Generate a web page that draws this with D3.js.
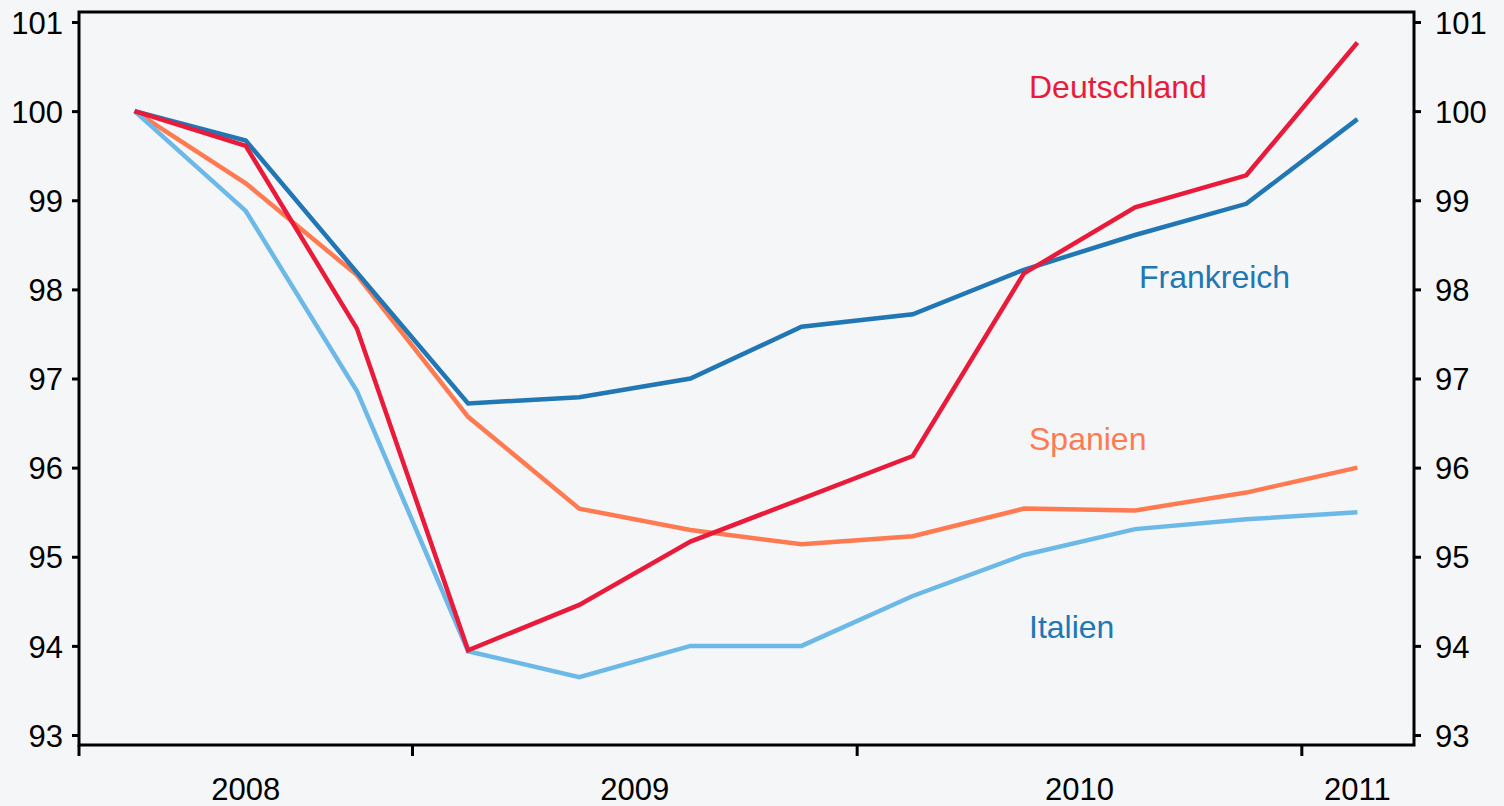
<!DOCTYPE html>
<meta charset="utf-8">
<head>
    <title>Deutschland, Frankreich, Spanien, Italien</title>
</head>
<style>
    body { margin: 0; background: #f4f6f8; }
    svg { display: block; font-family: "Liberation Sans", Arial, sans-serif; }
</style>
<script src="https://d3js.org/d3.v7.min.js"></script>
<body>
    <div id="chart"></div>
</body>
<script>
    // quarters from Q2 2008 to Q1 2011
    var quarters = ["2008Q2", "2008Q3", "2008Q4", "2009Q1", "2009Q2", "2009Q3", "2009Q4",
        "2010Q1", "2010Q2", "2010Q3", "2010Q4", "2011Q1"];
    var years = ["2008", "2009", "2010", "2011"];
    var yTicks = [93, 94, 95, 96, 97, 98, 99, 100, 101];

    var deutschland = [100, 99.61, 97.56, 93.95, 94.46, 95.17, 95.65, 96.13, 98.18, 98.92, 99.28, 100.77];
    var frankreich = [100, 99.67, 98.19, 96.72, 96.79, 97.00, 97.58, 97.72, 98.22, 98.61, 98.96, 99.91];
    var spanien = [100, 99.19, 98.16, 96.57, 95.54, 95.30, 95.14, 95.23, 95.54, 95.52, 95.72, 96.00];
    var italien = [100, 98.88, 96.86, 93.94, 93.65, 94.00, 94.00, 94.56, 95.02, 95.31, 95.42, 95.50];

    var series = [
        { name: "Spanien", values: spanien, color: "#ff7a50", label: [1029, 450] },
        { name: "Italien", values: italien, color: "#6cb9e8", label: [1029, 638] },
        { name: "Frankreich", values: frankreich, color: "#2077b4", label: [1139, 288] },
        { name: "Deutschland", values: deutschland, color: "#ea1a3a", label: [1029, 98] }
    ];
    var labelColors = { Deutschland: "#ea1a3a", Frankreich: "#2077b4", Spanien: "#ff7a50", Italien: "#2077b4" };

    var W = 1504, H = 806;
    var mLeft = 79, mRight = 1414, mTop = 12, mBottom = 745;

    var svg = d3.select("#chart").append("svg")
        .attr("width", W)
        .attr("height", H);

    var x = d3.scaleBand()
        .domain(quarters)
        .range([mLeft, mRight - 1])
        .padding(0);

    var y = d3.scaleLinear()
        .domain([93, 101])
        .range([735, 22]);

    // frame
    svg.append("rect")
        .attr("x", mLeft)
        .attr("y", mTop)
        .attr("width", mRight - mLeft)
        .attr("height", mBottom - mTop)
        .attr("fill", "none")
        .attr("stroke", "#000")
        .attr("stroke-width", 3);

    // left axis
    var yLeft = svg.append("g")
        .attr("transform", "translate(" + mLeft + ",0)")
        .call(d3.axisLeft(y).tickValues(yTicks).tickSize(7).tickPadding(9));
    // right axis
    var yRight = svg.append("g")
        .attr("transform", "translate(" + mRight + ",0)")
        .call(d3.axisRight(y).tickValues(yTicks).tickSize(7).tickPadding(14));

    [yLeft, yRight].forEach(function (g) {
        g.select(".domain").remove();
        g.selectAll("line").attr("stroke", "#000").attr("stroke-width", 3);
        g.selectAll("text")
            .attr("fill", "#000")
            .attr("dy", "0.36em")
            .style("font-size", "31px")
            .style("font-family", "'Liberation Sans', Arial, sans-serif");
    });

    // year boundaries and labels on the bottom
    var yearTickX = years.map(function (yr) {
        var q = quarters.indexOf(yr + "Q1");
        return q >= 0 ? x(quarters[q]) : mLeft;
    });
    svg.selectAll(".ytick")
        .data(yearTickX)
        .enter().append("line")
        .attr("x1", function (d) { return d; })
        .attr("x2", function (d) { return d; })
        .attr("y1", mBottom)
        .attr("y2", mBottom + 11)
        .attr("stroke", "#000")
        .attr("stroke-width", 3);

    svg.selectAll(".ylabel")
        .data(years)
        .enter().append("text")
        .attr("x", function (yr) {
            var qs = quarters.filter(function (q) { return q.indexOf(yr) === 0; });
            var a = x(qs[0]), b = x(qs[qs.length - 1]) + x.bandwidth();
            return (a + b) / 2;
        })
        .attr("y", 800)
        .attr("text-anchor", "middle")
        .style("font-size", "31px")
        .attr("fill", "#000")
        .text(function (d) { return d; });

    // lines
    var line = d3.line()
        .x(function (d, i) { return x(quarters[i]) + x.bandwidth() / 2; })
        .y(function (d) { return y(d); });

    svg.selectAll(".series")
        .data(series)
        .enter().append("path")
        .attr("d", function (s) { return line(s.values); })
        .attr("fill", "none")
        .attr("stroke", function (s) { return s.color; })
        .attr("stroke-width", 4.5)
        .attr("stroke-linejoin", "miter");

    // series labels
    svg.selectAll(".slabel")
        .data(series)
        .enter().append("text")
        .attr("x", function (s) { return s.label[0]; })
        .attr("y", function (s) { return s.label[1]; })
        .style("font-size", "32px")
        .attr("fill", function (s) { return labelColors[s.name]; })
        .text(function (s) { return s.name; });
</script>
